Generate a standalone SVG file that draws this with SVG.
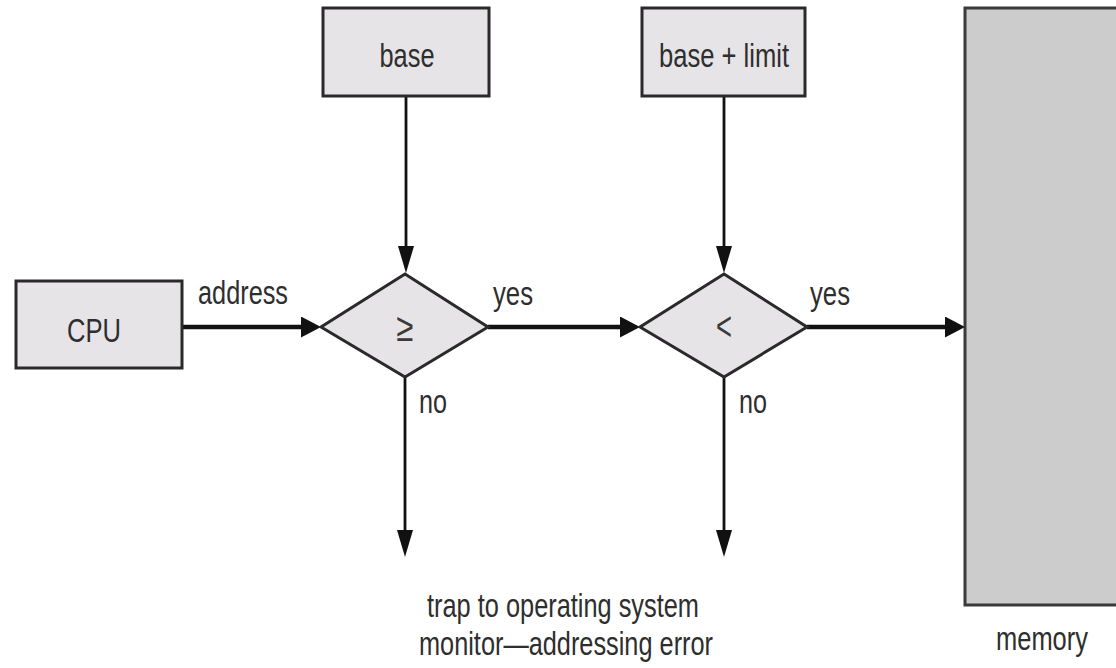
<svg xmlns="http://www.w3.org/2000/svg" width="1116" height="668" viewBox="0 0 1116 668">
  <style>
    .box { fill: #e6e4e7; stroke: #2a2a2a; stroke-width: 3; }
    .memfill { fill: #cccccc; stroke: none; }
    .memedge { fill: none; stroke: #3a3a3a; stroke-width: 3; }
    .t { font-family: "Liberation Sans", Arial, sans-serif; font-size: 33px; fill: #2e2e2e; text-anchor: middle; }
    .sym { font-family: "Liberation Sans", Arial, sans-serif; font-size: 40px; fill: #3a3a3a; text-anchor: middle; }
    .h { stroke: #111; stroke-width: 4.5; fill: none; marker-end: url(#ah); }
    .v { stroke: #111; stroke-width: 2.8; fill: none; marker-end: url(#av); }
  </style>
  <defs>
    <marker id="ah" markerUnits="userSpaceOnUse" markerWidth="22" markerHeight="22" refX="12" refY="10.5" orient="auto" viewBox="0 0 22 22">
      <path d="M0,0 L20,10.5 L0,21 Z" fill="#111"/>
    </marker>
    <marker id="av" markerUnits="userSpaceOnUse" markerWidth="28" markerHeight="18" refX="19" refY="8" orient="auto" viewBox="0 0 28 18">
      <path d="M0,0 L27,8 L0,16 Z" fill="#111"/>
    </marker>
  </defs>

  <g id="memory">
    <rect class="memfill" x="965" y="8" width="151" height="597"/>
    <path class="memedge" d="M1116,8 H965 V605 H1116"/>
    <text class="t" x="1042" y="650" font-size="31" textLength="92" lengthAdjust="spacingAndGlyphs">memory</text>
  </g>

  <g id="connectors">
    <line class="v" x1="406" y1="96" x2="406" y2="265"/>
    <line class="v" x1="724" y1="96" x2="724" y2="265"/>
    <line class="h" x1="182" y1="327" x2="313" y2="327"/>
    <line class="h" x1="488" y1="327" x2="632" y2="327"/>
    <line class="h" x1="807" y1="327" x2="957" y2="327"/>
    <line class="v" x1="405" y1="377" x2="405" y2="549"/>
    <line class="v" x1="724" y1="377" x2="724" y2="549"/>
    <text class="t" x="243" y="304" textLength="90" lengthAdjust="spacingAndGlyphs">address</text>
    <text class="t" x="513" y="305" textLength="40" lengthAdjust="spacingAndGlyphs">yes</text>
    <text class="t" x="830" y="305" textLength="40" lengthAdjust="spacingAndGlyphs">yes</text>
    <text class="t" x="433" y="413" textLength="28" lengthAdjust="spacingAndGlyphs">no</text>
    <text class="t" x="753" y="413" textLength="28" lengthAdjust="spacingAndGlyphs">no</text>
  </g>

  <g id="cpu">
    <rect class="box" x="16" y="281" width="166" height="87"/>
    <text class="t" x="94" y="342" font-size="35" textLength="54" lengthAdjust="spacingAndGlyphs">CPU</text>
  </g>

  <g id="base">
    <rect class="box" x="323" y="8" width="166" height="88"/>
    <text class="t" x="407" y="67" textLength="55" lengthAdjust="spacingAndGlyphs">base</text>
  </g>

  <g id="base-limit">
    <rect class="box" x="642" y="8" width="163" height="88"/>
    <text class="t" x="724" y="67" textLength="130" lengthAdjust="spacingAndGlyphs">base + limit</text>
  </g>

  <g id="check-ge">
    <polygon class="box" points="405,274 488,327 405,377 321,327"/>
    <text class="sym" x="405" y="341" textLength="17" lengthAdjust="spacingAndGlyphs">≥</text>
  </g>

  <g id="check-lt">
    <polygon class="box" points="724,274 807,327 724,377 640,327"/>
    <text class="sym" x="724" y="340" textLength="16" lengthAdjust="spacingAndGlyphs">&lt;</text>
  </g>

  <g id="trap">
    <text class="t" x="563" y="617" textLength="272" lengthAdjust="spacingAndGlyphs">trap to operating system</text>
    <text class="t" x="566" y="655" textLength="294" lengthAdjust="spacingAndGlyphs">monitor—addressing error</text>
  </g>
</svg>
